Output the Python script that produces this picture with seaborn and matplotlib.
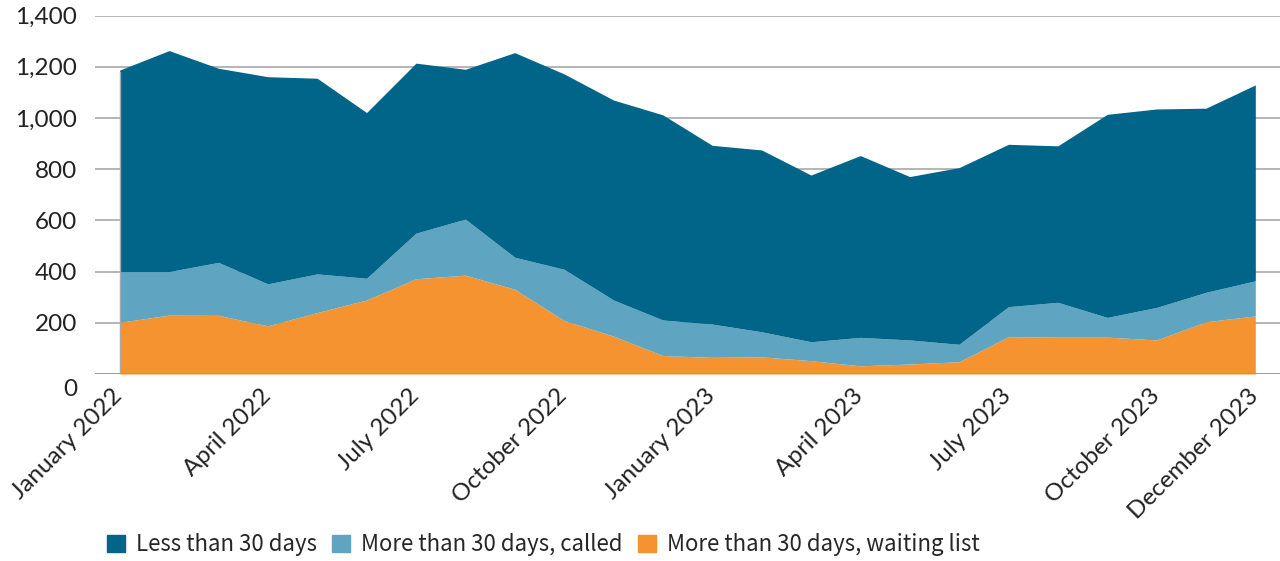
import matplotlib
matplotlib.use("Agg")
import matplotlib.pyplot as plt
import matplotlib.transforms as mtransforms
from matplotlib.patches import Patch
import seaborn as sns

# monthly values
months = ["Jan 2022", "Feb 2022", "Mar 2022", "Apr 2022", "May 2022", "Jun 2022",
          "Jul 2022", "Aug 2022", "Sep 2022", "Oct 2022", "Nov 2022", "Dec 2022",
          "Jan 2023", "Feb 2023", "Mar 2023", "Apr 2023", "May 2023", "Jun 2023",
          "Jul 2023", "Aug 2023", "Sep 2023", "Oct 2023", "Nov 2023", "Dec 2023"]
waiting_list = [202, 230, 229, 188, 240, 289, 372, 386, 331, 209, 148, 72,
                65, 67, 52, 32, 39, 48, 146, 144, 144, 133, 204, 227]
called = [198, 170, 207, 164, 151, 85, 178, 219, 125, 200, 141, 139,
          130, 98, 74, 111, 94, 68, 117, 136, 77, 127, 115, 137]
less_30 = [787, 863, 758, 809, 764, 647, 664, 585, 799, 763, 781, 801,
           698, 710, 651, 710, 638, 690, 634, 611, 793, 775, 719, 765]

tick_pos = [0, 3, 6, 9, 12, 15, 18, 21, 23]
tick_labels = ["January 2022", "April 2022", "July 2022", "October 2022",
               "January 2023", "April 2023", "July 2023", "October 2023",
               "December 2023"]
y_ticks = [0, 200, 400, 600, 800, 1000, 1200, 1400]

c_orange = "#F59331"
c_light = "#5FA5C1"
c_dark = "#006588"

sns.set_style("white")
plt.rcParams["font.family"] = ["Lato", "DejaVu Sans"]

fig = plt.figure(figsize=(12.8, 5.61), dpi=100)
ax = fig.add_axes([95 / 1280, 1 - 374 / 561, 1 - 95 / 1280, (374 - 15.5) / 561])

x = list(range(len(months)))
ax.stackplot(x, waiting_list, called, less_30,
             colors=[c_orange, c_light, c_dark], linewidth=0, zorder=2)

ax.set_xlim(-0.5, 23.5)
ax.set_ylim(0, 1400)
ax.set_yticks(y_ticks)
ax.set_yticklabels([f"{v:,}" for v in y_ticks])
ax.yaxis.grid(True, color="#b4b4b4", linewidth=1.4, zorder=0)
ax.axhline(0, color="#999999", linewidth=2, zorder=3)
ax.axvline(0, ymax=1180 / 1400, color="#a8a8a8", linewidth=1, zorder=3)
for s in ax.spines.values():
    s.set_visible(False)
ax.tick_params(axis="y", length=0, pad=13, labelsize=17.5, labelcolor="#222222")

ax.set_xticks(tick_pos)
ax.set_xticklabels(tick_labels, rotation=45, ha="right", rotation_mode="anchor")
ax.tick_params(axis="x", length=0, pad=8, labelsize=17.5, labelcolor="#222222")
shift = mtransforms.ScaledTranslation(-8 / 100, 0, fig.dpi_scale_trans)
for lbl in ax.get_xticklabels():
    lbl.set_transform(lbl.get_transform() + shift)

# shift the "0" label down a bit like in the original
zero_lbl = ax.get_yticklabels()[0]
zero_lbl.set_transform(zero_lbl.get_transform() +
                       mtransforms.ScaledTranslation(0, -13 / 100, fig.dpi_scale_trans))

handles = [Patch(color=c_dark), Patch(color=c_light), Patch(color=c_orange)]
labels = ["Less than 30 days", "More than 30 days, called",
          "More than 30 days, waiting list"]
fig.legend(handles, labels, loc="center left", ncol=3,
           bbox_to_anchor=(98 / 1280, 1 - 545 / 561), frameon=False,
           handlelength=0.8, handleheight=0.8, handletextpad=0.5,
           columnspacing=0.7, borderaxespad=0,
           prop={"family": ["Noto Sans CJK KR", "DejaVu Sans"], "size": 16})

fig.savefig("out.png", dpi=100)
